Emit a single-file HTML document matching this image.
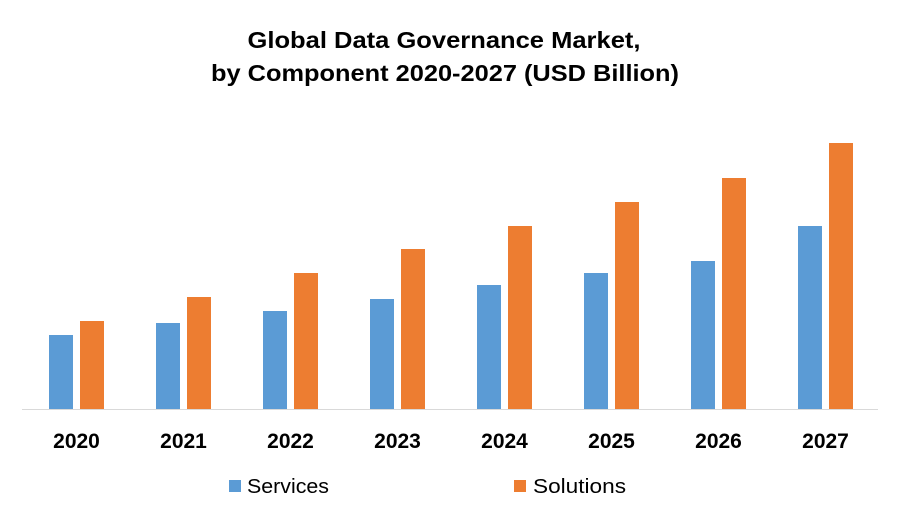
<!DOCTYPE html>
<html><head><meta charset="utf-8">
<style>
body{margin:0;background:#fff;}
svg{display:block;font-family:"Liberation Sans",Arial,sans-serif;}
</style></head><body>
<svg id="chart" width="900" height="525" viewBox="0 0 900 525">
<rect width="900" height="525" fill="#fff"/>
<text x="444" y="48" text-anchor="middle" font-size="23" font-weight="bold" fill="#000" textLength="393" lengthAdjust="spacingAndGlyphs">Global Data Governance Market,</text>
<text x="445" y="81" text-anchor="middle" font-size="23" font-weight="bold" fill="#000" textLength="468" lengthAdjust="spacingAndGlyphs">by Component 2020-2027 (USD Billion)</text>
<line x1="22" y1="409.5" x2="878" y2="409.5" stroke="#d9d9d9" stroke-width="1"/>
<g id="bars"></g>
<g id="xlabels"></g>
<rect x="229" y="480" width="12" height="12" fill="#5b9bd5"/>
<text x="247" y="493" font-size="20" fill="#000" textLength="82" lengthAdjust="spacingAndGlyphs">Services</text>
<rect x="514" y="480" width="12" height="12" fill="#ed7d31"/>
<text x="533" y="493" font-size="20" fill="#000" textLength="93" lengthAdjust="spacingAndGlyphs">Solutions</text>
</svg>
<script>
const categories = ["2020","2021","2022","2023","2024","2025","2026","2027"];
const services = [74,86,98,110,124,136,148,183];
const solutions = [88,112,136,160,183,207,231,266];
const yMax = 300;

const NS = "http://www.w3.org/2000/svg";
const plotLeft = 23, plotRight = 879, baseY = 409, plotH = 300;
const band = (plotRight - plotLeft) / categories.length;
function xCenter(i){ return plotLeft + band * (i + 0.5); }
function yScale(v){ return baseY - v / yMax * plotH; }
const barW = 24, gap = 7;
const bars = document.getElementById("bars");
const xl = document.getElementById("xlabels");
categories.forEach((c, i) => {
  const cx = xCenter(i);
  [[services, "#5b9bd5", -1, "services"], [solutions, "#ed7d31", 1, "solutions"]].forEach(([arr, col, side, nm]) => {
    const r = document.createElementNS(NS, "rect");
    const x = side < 0 ? cx - gap / 2 - barW : cx + gap / 2;
    const y = yScale(arr[i]);
    r.setAttribute("x", x);
    r.setAttribute("y", y);
    r.setAttribute("width", barW);
    r.setAttribute("height", baseY - y);
    r.setAttribute("fill", col);
    
    
    bars.appendChild(r);
  });
  const t = document.createElementNS(NS, "text");
  t.setAttribute("x", cx);
  t.setAttribute("y", 448);
  t.setAttribute("text-anchor", "middle");
  t.setAttribute("font-size", "21");
  t.setAttribute("font-weight", "bold");
  t.textContent = c;
  
  
  xl.appendChild(t);
});
</script>
</body></html>
